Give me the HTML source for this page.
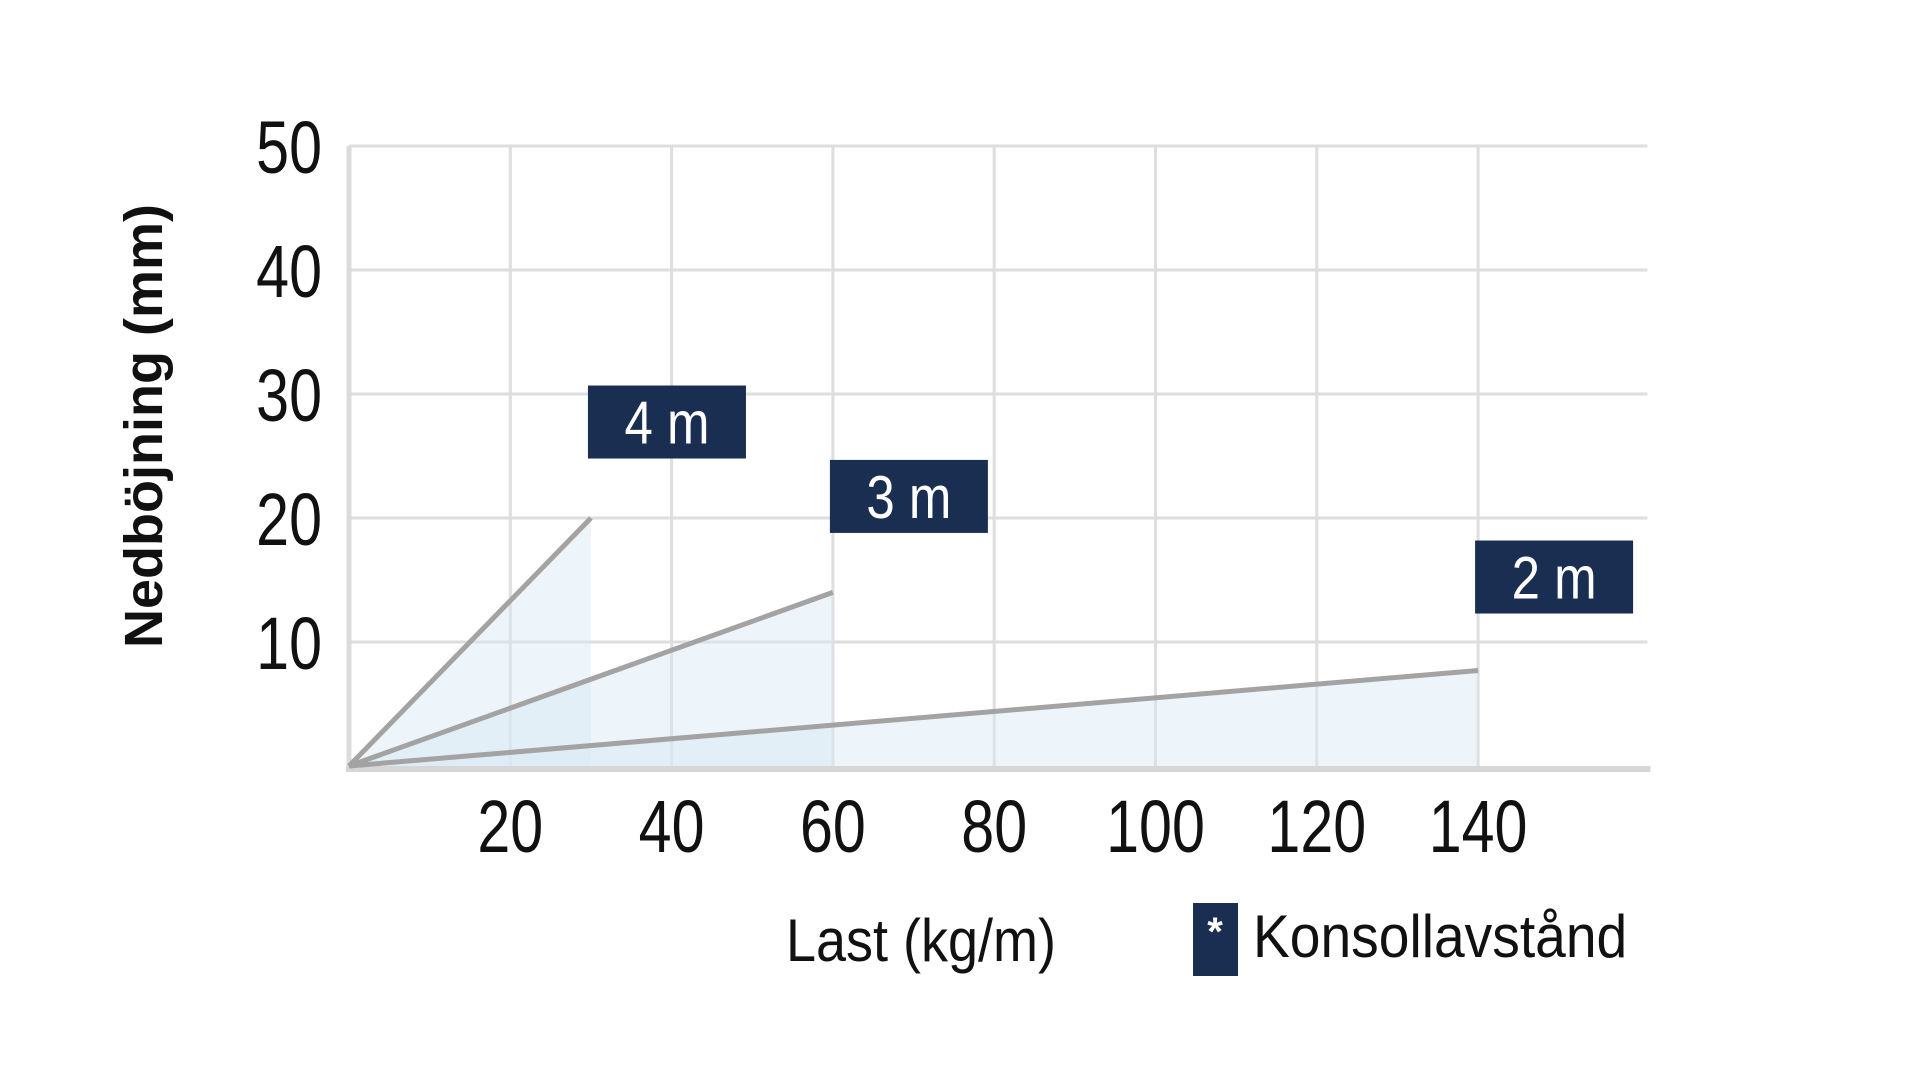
<!DOCTYPE html>
<html><head><meta charset="utf-8"><style>
html,body{margin:0;padding:0;background:#fff;}
svg{display:block;}
text{font-family:"Liberation Sans",sans-serif;}
</style></head><body>
<svg id="chart" width="1920" height="1080" viewBox="0 0 1920 1080"></svg>
<script>
const xTicks=[20,40,60,80,100,120,140];
const yTicks=[10,20,30,40,50];
const seriesNames=["4 m","3 m","2 m"];
const seriesMaxLoad=[30,60,140];
const seriesMaxDeflection=[20,14,7.7];
const labelLoads=[30,60,140];
const labelDeflections=[27.7,21.7,15.2];

const X0=349,Y0=766,XS=161.3/20,YS=12.4;
const sx=v=>X0+v*XS, sy=v=>Y0-v*YS;
const NS="http://www.w3.org/2000/svg";
const svg=document.getElementById('chart');
function mk(t,a,p){const e=document.createElementNS(NS,t);for(const k in a)e.setAttribute(k,a[k]);(p||svg).appendChild(e);return e;}

const grid=mk('g',{});


const xMax=161;
xTicks.forEach(v=>{const l=mk('line',{x1:sx(v),x2:sx(v),y1:sy(50),y2:Y0,stroke:'#dedede','stroke-width':3},grid);

});
yTicks.forEach(v=>{const l=mk('line',{x1:X0,x2:sx(xMax),y1:sy(v),y2:sy(v),stroke:'#dedede','stroke-width':3},grid);

});

seriesNames.forEach((n,i)=>{const x=sx(seriesMaxLoad[i]),y=sy(seriesMaxDeflection[i]);
const p=mk('polygon',{points:`${X0},${Y0} ${x},${y} ${x},${Y0}`,fill:'#d6e8f4','fill-opacity':0.45});

});

const ya=mk('line',{x1:X0,x2:X0,y1:sy(50),y2:Y0+3,stroke:'#dcdcdc','stroke-width':5});


const xa=mk('line',{x1:X0-3,x2:sx(xMax)+3,y1:Y0+3,y2:Y0+3,stroke:'#d6d6d6','stroke-width':6});



seriesNames.forEach((n,i)=>{const l=mk('line',{x1:X0,y1:Y0,x2:sx(seriesMaxLoad[i]),y2:sy(seriesMaxDeflection[i]),stroke:'#a3a3a3','stroke-width':5});

});

seriesNames.forEach((n,i)=>{const x=sx(labelLoads[i]),y=sy(labelDeflections[i]);
const g=mk('g',{});


mk('rect',{x:x-3,y:y-37,width:158,height:73,fill:'#1a2e52'},g);
const t=mk('text',{x:0,y:0,transform:`translate(${x+76},${y+21}) scale(0.85,1)`,'font-size':60,fill:'#fff','text-anchor':'middle'},g);t.textContent=n;});

xTicks.forEach(v=>{const t=mk('text',{x:0,y:0,transform:`translate(${sx(v)},852) scale(0.8,1)`,'font-size':74,fill:'#111','text-anchor':'middle'});t.textContent=v;

});
yTicks.forEach(v=>{const t=mk('text',{x:0,y:0,transform:`translate(322,${sy(v)+27}) scale(0.8,1)`,'font-size':74,fill:'#111','text-anchor':'end'});t.textContent=v;

});
</script>
<svg style="position:absolute;left:0;top:0" width="1920" height="1080">
<text x="0" y="0" transform="translate(162,426) rotate(-90)" text-anchor="middle" font-size="54" font-weight="bold" fill="#111">Nedböjning (mm)</text>
<text x="0" y="0" transform="translate(921,961) scale(0.9,1)" text-anchor="middle" font-size="60" fill="#111">Last (kg/m)</text>
<rect x="1193" y="903" width="45" height="73" fill="#1a2e52"/>
<text x="1215" y="945" text-anchor="middle" font-size="40" fill="#fff" font-weight="bold">*</text>
<text x="0" y="0" transform="translate(1253,957) scale(0.92,1)" font-size="60" fill="#111">Konsollavstånd</text>
</svg>
</body></html>
